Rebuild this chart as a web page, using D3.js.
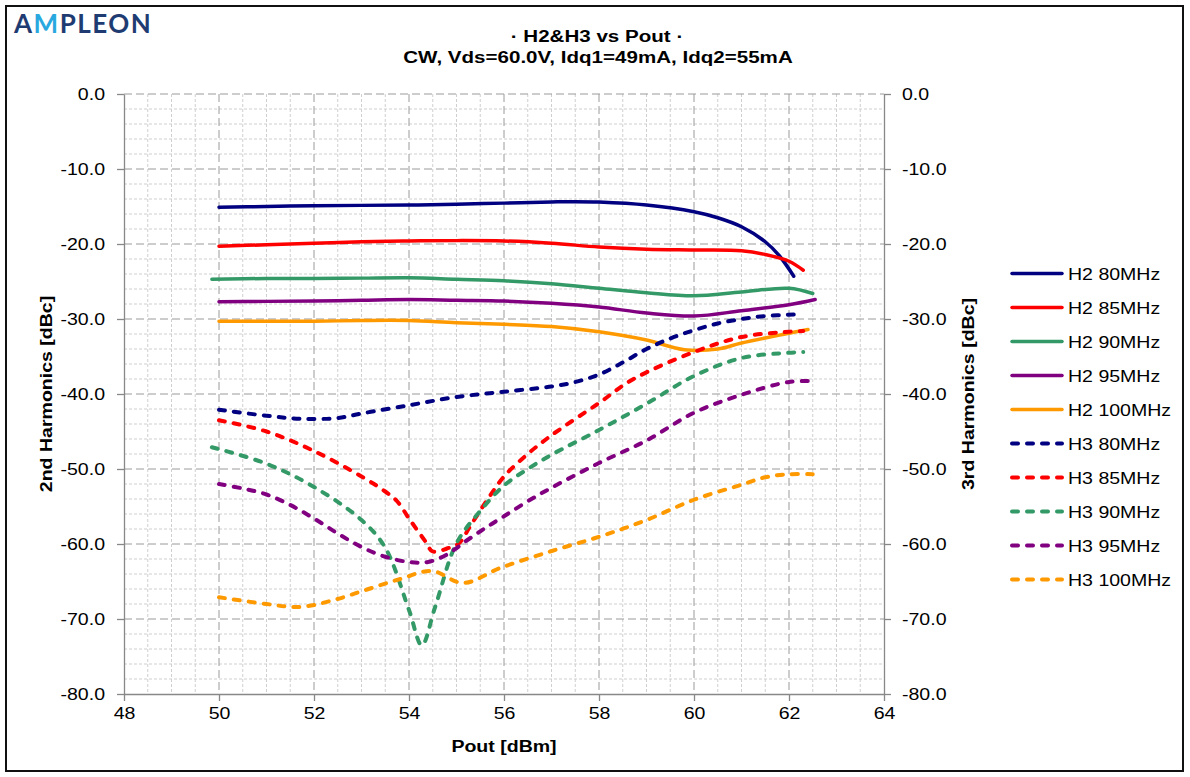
<!DOCTYPE html>
<html>
<head>
<meta charset="utf-8">
<script src="https://cdn.jsdelivr.net/npm/d3@7"></script>
<style>
  body { margin: 0; background: #fff; }
  svg { display: block; font-family: "Liberation Sans", Arial, sans-serif; }
</style>
</head>
<body>
<svg width="1190" height="777"></svg>
<script>
// ---- data ----
var xTicks = [48, 50, 52, 54, 56, 58, 60, 62, 64];
var yTicks = [0, -10, -20, -30, -40, -50, -60, -70, -80];

var h2_80_x  = [50, 51, 52, 53, 54, 55, 56, 57, 57.5, 58, 59, 60, 60.5, 61, 61.5, 61.8, 62.1];
var h2_80_y  = [-15.1, -15.0, -14.9, -14.85, -14.8, -14.7, -14.55, -14.4, -14.35, -14.4, -14.8, -15.7, -16.5, -17.7, -19.7, -21.6, -24.3];
var h2_85_x  = [50, 51, 52, 53, 54, 55, 56, 57, 58, 59, 60, 61, 61.5, 62, 62.3];
var h2_85_y  = [-20.3, -20.1, -19.9, -19.7, -19.6, -19.55, -19.6, -19.9, -20.4, -20.7, -20.8, -20.9, -21.4, -22.3, -23.5];
var h2_90_x  = [49.85, 51, 52, 53, 54, 55, 56, 57, 58, 59, 60, 61, 62, 62.5];
var h2_90_y  = [-24.7, -24.6, -24.6, -24.55, -24.5, -24.7, -24.9, -25.3, -25.9, -26.5, -26.9, -26.4, -25.9, -26.6];
var h2_95_x  = [50, 51, 52, 53, 54, 55, 56, 57, 58, 59, 60, 61, 62, 62.55];
var h2_95_y  = [-27.7, -27.65, -27.6, -27.5, -27.4, -27.5, -27.6, -27.9, -28.4, -29.2, -29.6, -28.9, -28.1, -27.4];
var h2_100_x = [50, 51, 52, 53, 54, 55, 56, 57, 58, 59, 59.8, 60.5, 61, 62, 62.4];
var h2_100_y = [-30.3, -30.3, -30.3, -30.2, -30.2, -30.5, -30.7, -31.0, -31.7, -32.8, -34.1, -34.0, -33.2, -31.9, -31.4];

var h3_80_x  = [50, 51, 51.7, 52.5, 53, 54, 55, 56, 57, 57.5, 58, 58.5, 59, 59.5, 60, 60.5, 61, 61.5, 62.1];
var h3_80_y  = [-42.1, -42.9, -43.3, -43.2, -42.6, -41.5, -40.4, -39.7, -39.0, -38.4, -37.4, -35.8, -34.0, -32.6, -31.5, -30.6, -30.0, -29.6, -29.4];
var h3_85_x  = [50, 51, 52, 53, 53.5, 53.75, 54.0, 54.35, 54.5, 54.8, 55.05, 55.3, 55.65, 56, 56.5, 57, 58, 58.7, 60, 61, 62, 62.3];
var h3_85_y  = [-43.5, -45.0, -47.6, -51.0, -53.0, -54.3, -56.6, -59.7, -61.0, -60.6, -59.9, -57.5, -54.1, -51.0, -48.0, -45.5, -41.2, -38.1, -34.4, -32.4, -31.7, -31.6];
var h3_90_x  = [49.85, 51, 52, 53, 53.5, 54.0, 54.27, 54.55, 55.0, 55.5, 56, 56.5, 57, 58, 59, 60, 61, 62, 62.3];
var h3_90_y  = [-47.1, -49.3, -52.4, -56.8, -60.5, -68.8, -73.5, -68.4, -59.9, -55.6, -52.2, -50.0, -48.1, -44.8, -41.3, -37.6, -35.2, -34.5, -34.4];
var h3_95_x  = [50, 50.5, 51, 51.5, 52, 52.5, 53, 53.5, 54, 54.4, 54.8, 55.2, 55.6, 56, 56.5, 57, 58, 59, 60, 61, 62, 62.55];
var h3_95_y  = [-52.0, -52.6, -53.4, -54.8, -56.6, -58.6, -60.4, -61.7, -62.4, -62.4, -61.4, -59.6, -57.9, -56.3, -54.3, -52.5, -49.2, -46.2, -42.5, -40.1, -38.4, -38.3];
var h3_100_x = [50, 51, 51.7, 52.4, 53.1, 53.8, 54.48, 55.14, 55.92, 56.97, 58.02, 59, 60, 61, 61.5, 62, 62.5];
var h3_100_y = [-67.1, -68.0, -68.4, -67.5, -66.1, -64.7, -63.6, -65.2, -63.2, -61.0, -59.0, -56.8, -54.1, -52.1, -51.1, -50.7, -50.7];

var seriesNames  = ["H2 80MHz", "H2 85MHz", "H2 90MHz", "H2 95MHz", "H2 100MHz",
                    "H3 80MHz", "H3 85MHz", "H3 90MHz", "H3 95MHz", "H3 100MHz"];
var seriesColors = ["#000080", "#ff0000", "#339966", "#800080", "#ff9900",
                    "#000080", "#ff0000", "#339966", "#800080", "#ff9900"];
var seriesX = [h2_80_x, h2_85_x, h2_90_x, h2_95_x, h2_100_x, h3_80_x, h3_85_x, h3_90_x, h3_95_x, h3_100_x];
var seriesY = [h2_80_y, h2_85_y, h2_90_y, h2_95_y, h2_100_y, h3_80_y, h3_85_y, h3_90_y, h3_95_y, h3_100_y];

var series = seriesNames.map(function(name, i) {
  return {
    id: name,
    color: seriesColors[i],
    dashed: name.indexOf("H3") === 0,
    values: seriesX[i].map(function(x, j) { return {pout: x, dbc: seriesY[i][j]}; })
  };
});

// ---- layout ----
var svg = d3.select("svg"),
    plot = {left: 124, right: 884, top: 94, bottom: 694},
    stretch = 1.15;

var x = d3.scaleLinear().domain([48, 64]).range([plot.left, plot.right]),
    y = d3.scaleLinear().domain([-80, 0]).range([plot.bottom, plot.top]);

// chart frame
svg.append("rect")
    .attr("x", 6).attr("y", 6)
    .attr("width", 1177).attr("height", 765)
    .attr("fill", "#fff")
    .attr("stroke", "#111")
    .attr("stroke-width", 2);

// helper for the slightly wide text of the original
function label(txt, px, py, opts) {
  opts = opts || {};
  var t = svg.append("text")
      .attr("transform", "translate(" + px + "," + py + ")" + (opts.rotate ? " rotate(" + opts.rotate + ")" : "") + " scale(" + (opts.sx || stretch) + ",1)")
      .attr("text-anchor", opts.anchor || "start")
      .attr("font-size", opts.size || 17)
      .attr("font-weight", opts.bold ? "bold" : "normal")
      .attr("fill", opts.fill || "#000")
      .text(txt);
  return t;
}

// ---- grid ----
var grid = svg.append("g").attr("class", "grid");
var minorX = d3.range(48.5, 64, 0.5).filter(function(d) { return d % 2 !== 0; }),
    minorY = d3.range(-78, 0, 2).filter(function(d) { return d % 10 !== 0; });

grid.selectAll(".minor-x").data(minorX).enter().append("line")
    .attr("x1", function(d) { return x(d); }).attr("x2", function(d) { return x(d); })
    .attr("y1", plot.top).attr("y2", plot.bottom)
    .attr("stroke", "#cfcfcf").attr("stroke-dasharray", "3,2");
grid.selectAll(".minor-y").data(minorY).enter().append("line")
    .attr("y1", function(d) { return y(d); }).attr("y2", function(d) { return y(d); })
    .attr("x1", plot.left).attr("x2", plot.right)
    .attr("stroke", "#cfcfcf").attr("stroke-dasharray", "3,2");
grid.selectAll(".major-x").data(xTicks.slice(1, -1)).enter().append("line")
    .attr("x1", function(d) { return x(d); }).attr("x2", function(d) { return x(d); })
    .attr("y1", plot.top).attr("y2", plot.bottom)
    .attr("stroke", "#9a9a9a").attr("stroke-dasharray", "8,4");
grid.selectAll(".major-y").data(yTicks.slice(0, -1)).enter().append("line")
    .attr("y1", function(d) { return y(d); }).attr("y2", function(d) { return y(d); })
    .attr("x1", plot.left).attr("x2", plot.right)
    .attr("stroke", "#9a9a9a").attr("stroke-dasharray", "8,4");

// ---- axes ----
function styleAxis(sel) {
  sel.select(".domain").attr("stroke", "#888").attr("stroke-width", 1.3);
  sel.selectAll(".tick line").attr("stroke", "#888").attr("stroke-width", 1.3);
  sel.selectAll(".tick text")
      .attr("font-size", 17)
      .attr("font-family", "Liberation Sans, Arial, sans-serif")
      .attr("fill", "#000");
}

var fmtY = function(d) { return d.toFixed(1); };

var axL = svg.append("g")
    .attr("transform", "translate(" + plot.left + ",0)")
    .call(d3.axisLeft(y).tickValues(yTicks).tickFormat(fmtY).tickSize(7).tickSizeOuter(0).tickPadding(12));
styleAxis(axL);
axL.selectAll(".tick text").each(function() {
  var t = d3.select(this), tx = +t.attr("x");
  t.attr("x", tx / stretch).attr("transform", "scale(" + stretch + ",1)");
});

var axR = svg.append("g")
    .attr("transform", "translate(" + plot.right + ",0)")
    .call(d3.axisRight(y).tickValues(yTicks).tickFormat(fmtY).tickSize(7).tickSizeOuter(0).tickPadding(11));
styleAxis(axR);
axR.selectAll(".tick text").each(function() {
  var t = d3.select(this), tx = +t.attr("x");
  t.attr("x", tx / stretch).attr("transform", "scale(" + stretch + ",1)");
});

var axB = svg.append("g")
    .attr("transform", "translate(0," + plot.bottom + ")")
    .call(d3.axisBottom(x).tickValues(xTicks).tickFormat(d3.format("d")).tickSize(7).tickSizeOuter(0).tickPadding(6));
styleAxis(axB);
axB.selectAll(".tick text").attr("transform", "scale(" + stretch + ",1)");

// ---- lines ----
var line = d3.line()
    .curve(d3.curveCatmullRom.alpha(0.5))
    .x(function(d) { return x(d.pout); })
    .y(function(d) { return y(d.dbc); });

var lines = svg.append("g").attr("class", "series")
  .selectAll(".hero-line")
  .data(series)
  .enter().append("path")
    .attr("class", "line")
    .attr("fill", "none")
    .attr("stroke", function(d) { return d.color; })
    .attr("stroke-width", function(d) { return d.dashed ? 4 : 3.5; })
    .attr("stroke-linecap", "round")
    .attr("stroke-dasharray", function(d) { return d.dashed ? "6,9" : null; })
    .attr("d", function(d) { return line(d.values); });

// ---- legend ----
var legend = svg.append("g").attr("class", "legend")
  .selectAll("g")
  .data(series)
  .enter().append("g")
    .attr("transform", function(d, i) { return "translate(1012," + (273.5 + i * 34) + ")"; });

legend.append("line")
    .attr("x1", 0).attr("x2", 50)
    .attr("stroke", function(d) { return d.color; })
    .attr("stroke-width", function(d) { return d.dashed ? 4 : 3.5; })
    .attr("stroke-linecap", "round")
    .attr("stroke-dasharray", function(d) { return d.dashed ? "6,9" : null; });

legend.append("text")
    .attr("transform", "translate(56,6) scale(" + stretch + ",1)")
    .attr("font-size", 17)
    .text(function(d) { return d.id; });

// ---- titles ----
label("\u00b7 H2&H3 vs Pout \u00b7", 597, 42, {anchor: "middle", bold: true, size: 17, sx: 1.21});
label("CW, Vds=60.0V, Idq1=49mA, Idq2=55mA", 598, 63, {anchor: "middle", bold: true, size: 17, sx: 1.21});
label("Pout [dBm]", 504, 752, {anchor: "middle", bold: true, size: 17});
label("2nd Harmonics [dBc]", 52, 394, {anchor: "middle", bold: true, size: 17, rotate: -90});
label("3rd Harmonics [dBc]", 974, 394, {anchor: "middle", bold: true, size: 17, rotate: -90});

// logo
var logo = svg.append("text")
    .attr("x", 14).attr("y", 33)
    .attr("font-family", "Lato, 'Open Sans', sans-serif")
    .attr("font-size", 26)
    .attr("font-weight", "bold")
    .attr("letter-spacing", 1.5)
    .attr("fill", "#1f3c72");
logo.append("tspan").text("A");
logo.append("tspan").attr("fill", "#29a8e0").text("M");
logo.append("tspan").text("PLEON");
</script>
</body>
</html>
